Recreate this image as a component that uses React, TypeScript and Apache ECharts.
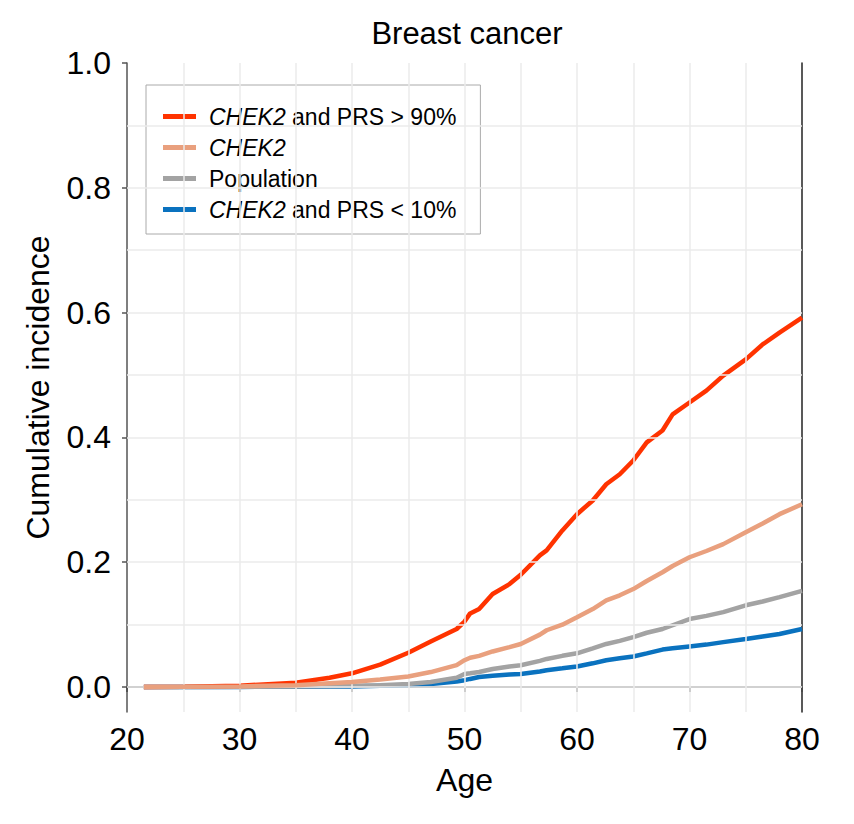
import React, { useEffect, useRef } from 'react';
import * as echarts from 'echarts';

// age grid shared by all four curves
const ages = [
  21.5, 25, 30, 35, 38, 40, 42.5, 45, 47, 49.3, 50, 50.5, 51.3, 52.5, 54, 55,
  56.7, 57.3, 58.7, 60, 61.4, 62.6, 63.8, 65, 66.2, 67.6, 68.5, 70, 71.5, 73,
  75, 76.5, 78, 80,
];

const chek2HighPrs = [
  0, 0.0005, 0.002, 0.007, 0.015, 0.022, 0.036, 0.055, 0.073, 0.093, 0.105,
  0.118, 0.125, 0.149, 0.165, 0.18, 0.211, 0.219, 0.251, 0.277, 0.299, 0.325,
  0.341, 0.363, 0.392, 0.411, 0.437, 0.456, 0.475, 0.499, 0.525, 0.549, 0.568,
  0.592,
];

const chek2 = [
  0, 0.0003, 0.001, 0.003, 0.006, 0.008, 0.012, 0.017, 0.024, 0.035, 0.043,
  0.047, 0.05, 0.057, 0.064, 0.069, 0.084, 0.091, 0.1, 0.112, 0.125, 0.139,
  0.147, 0.157, 0.17, 0.184, 0.194, 0.208, 0.218, 0.229, 0.248, 0.262, 0.277,
  0.293,
];

const population = [
  0, 0, 0.0003, 0.001, 0.0015, 0.002, 0.003, 0.005, 0.008, 0.015, 0.021, 0.022,
  0.024, 0.029, 0.033, 0.035, 0.042, 0.045, 0.05, 0.054, 0.062, 0.069, 0.074,
  0.08, 0.087, 0.093, 0.099, 0.109, 0.114, 0.12, 0.131, 0.137, 0.144, 0.154,
];

const chek2LowPrs = [
  0, 0, 0.0002, 0.0006, 0.001, 0.001, 0.002, 0.003, 0.005, 0.009, 0.011, 0.013,
  0.016, 0.018, 0.02, 0.021, 0.025, 0.027, 0.03, 0.033, 0.038, 0.043, 0.046,
  0.049, 0.054, 0.06, 0.062, 0.065, 0.068, 0.072, 0.077, 0.081, 0.085, 0.093,
];

const yTicks = [0, 0.2, 0.4, 0.6, 0.8, 1.0];
const yGrid = [0, 0.1, 0.2, 0.3, 0.4, 0.5, 0.6, 0.7, 0.8, 0.9];
const xGrid = [25, 30, 35, 40, 45, 50, 55, 60, 65, 70, 75];

const seriesDefs = [
  { name: 'CHEK2 and PRS > 90%', values: chek2HighPrs, color: '#ff3300', z: 4 },
  { name: 'CHEK2', values: chek2, color: '#e9a07e', z: 5 },
  { name: 'Population', values: population, color: '#a3a3a3', z: 3 },
  { name: 'CHEK2 and PRS < 10%', values: chek2LowPrs, color: '#0a72bf', z: 2 },
];

const FONT = '"Liberation Sans", Arial, sans-serif';

const App: React.FC = () => {
  const chartRef = useRef<HTMLDivElement>(null);

  useEffect(() => {
    if (!chartRef.current) return;
    const chart = echarts.init(chartRef.current, undefined, { renderer: 'svg' });

    const option: echarts.EChartsOption = {
      animation: false,
      backgroundColor: '#fff',
      textStyle: { fontFamily: FONT },
      title: {
        text: 'Breast cancer',
        left: 462,
        textAlign: 'center',
        top: 13,
        textStyle: { fontFamily: FONT, fontSize: 31, fontWeight: 'normal', color: '#000' },
      },
      grid: { left: 127, right: 52, top: 63, bottom: 112 },
      legend: {
        orient: 'vertical',
        left: 146,
        top: 85,
        padding: [20, 24, 13, 17],
        itemGap: 8,
        itemWidth: 33,
        itemHeight: 5,
        icon: 'rect',
        borderColor: '#aaa',
        borderWidth: 1,
        data: seriesDefs.map((s) => s.name),
        formatter: (name: string) => name.replace('CHEK2', '{i|CHEK2}'),
        textStyle: {
          fontFamily: FONT,
          fontSize: 23,
          color: '#000',
          padding: [0, 0, 0, 8],
          rich: {
            i: { fontFamily: FONT, fontSize: 23, fontStyle: 'italic', color: '#000' },
          },
        },
      },
      xAxis: [
        {
          type: 'value',
          min: 20,
          max: 80,
          interval: 10,
          name: 'Age',
          nameLocation: 'middle',
          nameGap: 52,
          nameTextStyle: { fontFamily: FONT, fontSize: 32, color: '#000' },
          axisLine: { lineStyle: { color: '#444', width: 1.5 } },
          axisTick: { length: 5, lineStyle: { color: '#444', width: 1.5 } },
          axisLabel: { fontFamily: FONT, fontSize: 32, color: '#000', margin: 11 },
          splitLine: { show: false },
        },
        {
          type: 'value',
          position: 'top',
          min: 20,
          max: 80,
          axisLine: { lineStyle: { color: '#888', width: 1.5 } },
          axisTick: { show: false },
          axisLabel: { show: false },
          splitLine: { show: false },
        },
      ],
      yAxis: [
        {
          type: 'value',
          min: -0.04,
          max: 1.0,
          name: 'Cumulative incidence',
          nameLocation: 'middle',
          nameGap: 73,
          nameTextStyle: { fontFamily: FONT, fontSize: 32, color: '#000' },
          axisLine: { show: true, lineStyle: { color: '#555', width: 1.5 } },
          axisTick: { show: true, length: 5, customValues: yTicks, lineStyle: { color: '#555', width: 1.5 } },
          axisLabel: {
            fontFamily: FONT,
            fontSize: 32,
            color: '#000',
            margin: 16,
            customValues: yTicks,
            formatter: (v: number) => v.toFixed(1),
          },
          splitLine: { show: false },
        },
        {
          type: 'value',
          position: 'right',
          min: -0.04,
          max: 1.0,
          axisLine: { show: true, lineStyle: { color: '#222', width: 1.5 } },
          axisTick: { show: false },
          axisLabel: { show: false },
          splitLine: { show: false },
        },
      ],
      series: [
        {
          name: 'grid',
          type: 'line',
          data: [],
          z: 1,
          silent: true,
          markLine: {
            silent: true,
            symbol: ['none', 'none'],
            label: { show: false },
            lineStyle: { color: '#ebebeb', width: 1.5, type: 'solid' },
            emphasis: { disabled: true },
            data: [
              ...yGrid.map((v) => ({ yAxis: v })),
              ...xGrid.map((v) => ({ xAxis: v })),
            ],
          },
        },
        ...seriesDefs.map((s) => ({
          name: s.name,
          type: 'line' as const,
          z: s.z,
          showSymbol: false,
          symbol: 'none',
          color: s.color,
          lineStyle: { color: s.color, width: 4.5 },
          itemStyle: { color: s.color },
          data: ages.map((a, i) => [a, s.values[i]]),
        })),
      ],
    };

    chart.setOption(option);
    return () => {
      chart.dispose();
    };
  }, []);

  return (
    <div
      ref={chartRef}
      style={{ position: 'absolute', left: 0, top: 0, width: '854px', height: '824px' }}
    ></div>
  );
};

export default App;
